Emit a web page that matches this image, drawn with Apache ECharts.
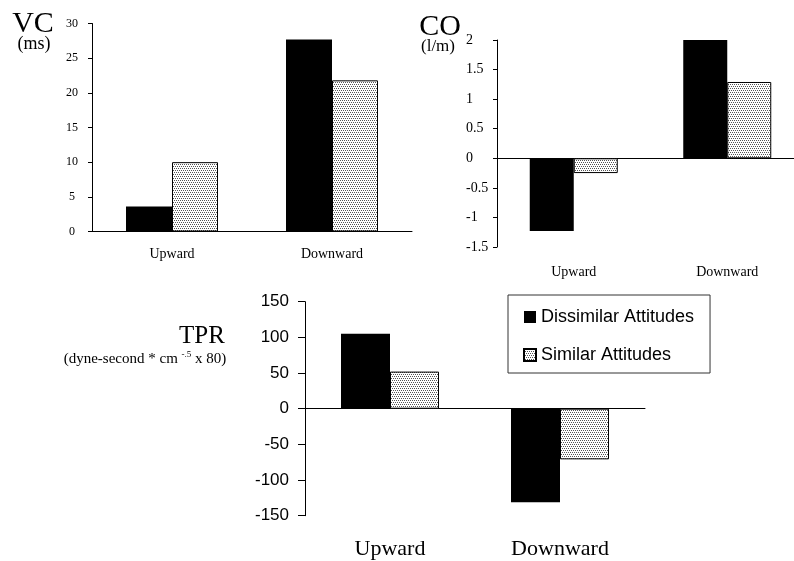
<!DOCTYPE html>
<html>
<head>
<meta charset="utf-8">
<script src="https://cdn.jsdelivr.net/npm/echarts@6/dist/echarts.min.js"></script>
<style>
  html, body { margin: 0; padding: 0; background: #fff; }
  #chart { width: 794px; height: 561px; }
</style>
</head>
<body>
<div id="chart"></div>
<script>
const categories = ['Upward', 'Downward'];
const seriesNames = ['Dissimilar Attitudes', 'Similar Attitudes'];

const vcDissimilar = [3.6, 27.7];
const vcSimilar = [10, 21.8];
const coDissimilar = [-1.23, 2.0];
const coSimilar = [-0.25, 1.29];
const tprDissimilar = [105, -131];
const tprSimilar = [52, -71];

const serif = '"Liberation Serif", "Times New Roman", serif';
const sans = '"Liberation Sans", Arial, sans-serif';

// stipple fill for the "similar" bars
function makeStipple() {
  const c = document.createElement('canvas');
  c.width = 4;
  c.height = 4;
  const ctx = c.getContext('2d');
  ctx.fillStyle = '#fff';
  ctx.fillRect(0, 0, 4, 4);
  ctx.fillStyle = '#555';
  [[0, 0], [2, 0], [1, 2], [3, 2]].forEach(([x, y]) => ctx.fillRect(x, y, 1, 1));
  return c;
}
const stipple = { image: makeStipple(), repeat: 'repeat' };

const chart = echarts.init(document.getElementById('chart'), null, { renderer: 'canvas' });

const axisLine = { lineStyle: { color: '#000', width: 1 } };

// labels sit below the grid bottom, the line itself stays on zero
function xAxis(gridIndex, margin, fontSize) {
  return {
    type: 'category',
    gridIndex,
    data: categories,
    axisLine: Object.assign({ onZero: true }, axisLine),
    axisTick: { length: 5, lineStyle: { color: '#000' } },
    axisLabel: { margin, color: '#000', fontFamily: serif, fontSize, interval: 0 }
  };
}

function yAxis(gridIndex, min, max, interval, label, tickLen) {
  return {
    type: 'value',
    gridIndex,
    min,
    max,
    interval,
    axisLine: Object.assign({ show: true }, axisLine),
    axisTick: { show: true, length: tickLen, lineStyle: { color: '#000' } },
    splitLine: { show: false },
    axisLabel: Object.assign({ color: '#000' }, label)
  };
}

function bars(idx, dissim, sim, width) {
  return [
    {
      name: seriesNames[0],
      type: 'bar',
      xAxisIndex: idx,
      yAxisIndex: idx,
      data: dissim,
      barWidth: width,
      barGap: '0%',
      itemStyle: { color: '#000' }
    },
    {
      name: seriesNames[1],
      type: 'bar',
      xAxisIndex: idx,
      yAxisIndex: idx,
      data: sim,
      barWidth: width,
      barGap: '0%',
      itemStyle: { color: stipple, borderColor: '#000', borderWidth: 1 }
    }
  ];
}

const option = {
  animation: false,
  backgroundColor: '#fff',
  grid: [
    { left: 92, top: 23.5, width: 320, height: 208, outerBoundsMode: 'none' },
    { left: 497, top: 40, width: 307, height: 207, outerBoundsMode: 'none' },
    { left: 305, top: 301.7, width: 340, height: 214, outerBoundsMode: 'none' }
  ],
  xAxis: [
    xAxis(0, 16, 14),
    xAxis(1, 18, 14),
    xAxis(2, 23, 22)
  ],
  yAxis: [
    yAxis(0, 0, 30, 5, { fontFamily: serif, fontSize: 12, align: 'center', margin: 20 }, 4),
    yAxis(1, -1.5, 2, 0.5, { fontFamily: serif, fontSize: 14, align: 'left', margin: 31 }, 4),
    yAxis(2, -150, 150, 50, { fontFamily: sans, fontSize: 17, align: 'right', margin: 16 }, 7)
  ],
  legend: {
    orient: 'vertical',
    left: 508,
    top: 295,
    data: seriesNames,
    icon: 'rect',
    itemWidth: 12,
    itemHeight: 12,
    itemGap: 20,
    padding: [13, 16, 9, 15],
    borderColor: '#333',
    borderWidth: 1,
    textStyle: { fontFamily: sans, fontSize: 18, color: '#000' }
  },
  graphic: [
    { type: 'text', x: 33, y: 24, style: { text: 'VC', font: '30px ' + serif, fill: '#000', textAlign: 'center', textVerticalAlign: 'middle' } },
    { type: 'text', x: 34, y: 44, style: { text: '(ms)', font: '18px ' + serif, fill: '#000', textAlign: 'center', textVerticalAlign: 'middle' } },
    { type: 'text', x: 440, y: 27, style: { text: 'CO', font: '30px ' + serif, fill: '#000', textAlign: 'center', textVerticalAlign: 'middle' } },
    { type: 'text', x: 438, y: 47, style: { text: '(l/m)', font: '17px ' + serif, fill: '#000', textAlign: 'center', textVerticalAlign: 'middle' } },
    { type: 'text', x: 202, y: 336, style: { text: 'TPR', font: '25px ' + serif, fill: '#000', textAlign: 'center', textVerticalAlign: 'middle' } },
    {
      type: 'text',
      x: 145,
      y: 359,
      style: {
        text: '(dyne-second * cm {sup|-.5} x 80)',
        font: '15px ' + serif,
        fill: '#000',
        textAlign: 'center',
        textVerticalAlign: 'middle',
        rich: { sup: { fontSize: 9, fontFamily: serif, padding: [0, 0, 8, 0] } }
      }
    }
  ],
  series: [].concat(
    bars(0, vcDissimilar, vcSimilar, 46),
    bars(1, coDissimilar, coSimilar, 44),
    bars(2, tprDissimilar, tprSimilar, 49)
  )
};

chart.setOption(option);
</script>
</body>
</html>
